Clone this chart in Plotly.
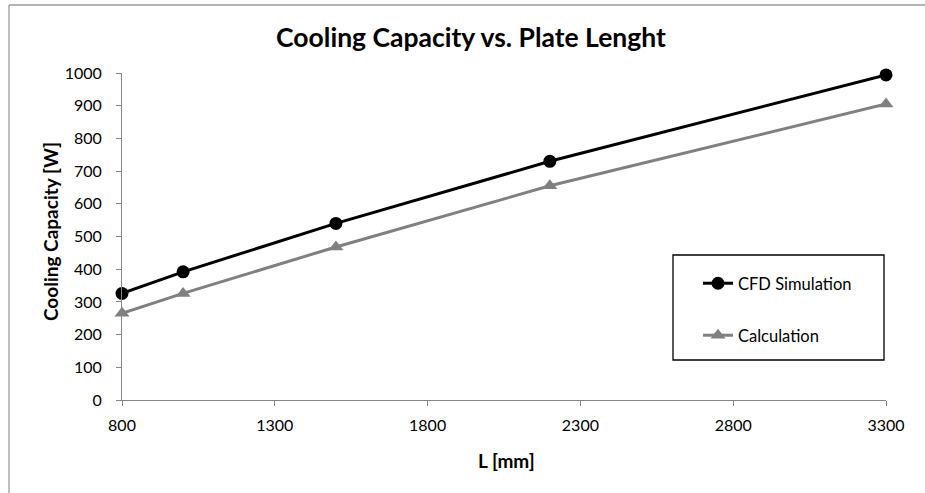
import plotly.graph_objects as go

# Plate length [mm]
plate_length = [800, 1000, 1500, 2200, 3300]
# Cooling capacity [W]
cfd_simulation = [326, 392, 540, 730, 994]
calculation = [265, 326, 468, 655, 905]

x_ticks = [800, 1300, 1800, 2300, 2800, 3300]
y_ticks = [0, 100, 200, 300, 400, 500, 600, 700, 800, 900, 1000]

FONT = "Lato"
AXIS_GRAY = "#868686"

fig = go.Figure()

fig.add_trace(go.Scatter(
    x=plate_length, y=cfd_simulation, name="CFD Simulation",
    mode="lines+markers",
    line=dict(color="#000000", width=3),
    marker=dict(symbol="circle", size=13, color="#000000"),
    cliponaxis=False, legend="legend",
))
fig.add_trace(go.Scatter(
    x=plate_length, y=calculation, name="Calculation",
    mode="lines+markers",
    line=dict(color="#808080", width=3),
    marker=dict(symbol="triangle-up", size=13, color="#808080"),
    cliponaxis=False, legend="legend2",
))

W, H = 925, 493
ML, MR, MT, MB = 122, 39, 73, 93
pw, ph = W - ML - MR, H - MT - MB


def px_x(p):
    return (p - ML) / pw


def px_y(p):
    return (H - MB - p) / ph


legend_common = dict(
    font=dict(family=FONT, size=16.5, color="#000000"),
    bgcolor="rgba(0,0,0,0)", borderwidth=0,
    xanchor="left", yanchor="top", itemsizing="trace",
)

fig.update_layout(
    width=W, height=H,
    margin=dict(l=ML, r=MR, t=MT, b=MB),
    paper_bgcolor="#ffffff", plot_bgcolor="#ffffff",
    font=dict(family=FONT, size=16, color="#000000"),
    title=dict(
        text="<b>Cooling Capacity vs. Plate Lenght</b>",
        font=dict(family=FONT, size=26.5, color="#000000"),
        x=471 / W, xanchor="center", y=1 - 38 / H, yanchor="middle",
    ),
    xaxis=dict(
        range=[800, 3300], tickvals=x_ticks, ticktext=[str(v) for v in x_ticks],
        showgrid=False, zeroline=False,
        showline=True, linecolor=AXIS_GRAY, linewidth=1,
        ticks="outside", ticklen=5, tickcolor=AXIS_GRAY,
        tickfont=dict(family=FONT, size=16, color="#000000"),
        ticklabelstandoff=6,
    ),
    yaxis=dict(
        range=[0, 1000], tickvals=y_ticks,
        showgrid=False, zeroline=False,
        showline=True, linecolor=AXIS_GRAY, linewidth=1,
        ticks="outside", ticklen=5, tickcolor=AXIS_GRAY,
        tickfont=dict(family=FONT, size=16, color="#000000"),
        ticklabelstandoff=11,
    ),
    legend=dict(x=px_x(698), y=px_y(266), **legend_common),
    legend2=dict(x=px_x(698), y=px_y(318), **legend_common),
    showlegend=True,
)

# Legend frame
fig.add_shape(type="rect", xref="paper", yref="paper",
              x0=px_x(673), x1=px_x(884), y0=px_y(360), y1=px_y(255),
              line=dict(color="#000000", width=1.3), fillcolor="rgba(0,0,0,0)")
# Outer chart frame: top and left edges
frame_line = dict(color="#9a9a9a", width=1.3)
fig.add_shape(type="line", xref="paper", yref="paper",
              x0=px_x(9), x1=px_x(W + 20), y0=px_y(5), y1=px_y(5), line=frame_line)
fig.add_shape(type="line", xref="paper", yref="paper",
              x0=px_x(9), x1=px_x(9), y0=px_y(5), y1=px_y(H + 20), line=frame_line)

# Axis titles
fig.add_annotation(text="<b>L [mm]</b>", xref="paper", yref="paper",
                   x=px_x(506), y=px_y(460), showarrow=False,
                   xanchor="center", yanchor="middle",
                   font=dict(family=FONT, size=19, color="#000000"))
fig.add_annotation(text="<b>Cooling Capacity [W]</b>", xref="paper", yref="paper",
                   x=px_x(50), y=px_y(232), showarrow=False, textangle=-90,
                   xanchor="center", yanchor="middle",
                   font=dict(family=FONT, size=19, color="#000000"))

fig.write_html("out.html")
